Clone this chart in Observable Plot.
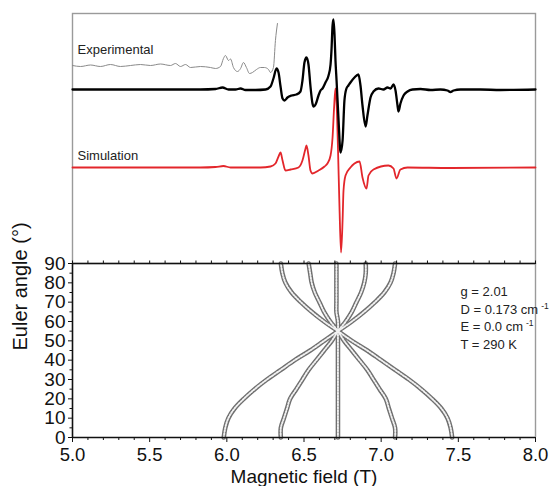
<!DOCTYPE html>
<html>
<head>
<meta charset="utf-8">
<script src="https://cdn.jsdelivr.net/npm/d3@7"></script>
<script src="https://cdn.jsdelivr.net/npm/@observablehq/plot@0.6"></script>
<style>
  body { margin: 0; background: #fff; }
  #wrap { position: relative; width: 549px; height: 486px; font-family: "Liberation Sans", Arial, sans-serif; }
  #wrap > svg { position: absolute; left: 0; }
</style>
</head>
<body>
<div id="wrap"></div>
<script>
// ---------- top panel: EPR spectra (field in T, signal in arb. units) ----------
const experimental = [[5.000,0],[5.505,0],[5.829,0],[5.927,0.5],[5.972,2],[6.011,0],[6.056,0],[6.089,1],[6.121,-0.5],[6.186,-0.5],[6.251,0],[6.283,3],[6.302,11],[6.322,21],[6.335,17],[6.348,3],[6.361,-9],[6.374,-11],[6.393,-8],[6.419,-6],[6.451,-5],[6.477,-2],[6.490,9],[6.503,27],[6.516,32],[6.529,25],[6.542,3],[6.555,-14],[6.562,-17],[6.575,-15],[6.594,-6],[6.607,-1],[6.620,1],[6.639,7],[6.659,14],[6.672,25],[6.678,39],[6.685,64],[6.691,70],[6.698,54],[6.704,29],[6.711,9],[6.724,-31],[6.737,-63],[6.750,-51],[6.762,-11],[6.775,1],[6.788,4],[6.801,7],[6.827,12],[6.853,15],[6.866,4],[6.879,-16],[6.899,-37],[6.911,-26],[6.931,-8],[6.950,-2],[6.983,1],[7.015,0],[7.041,2],[7.061,1],[7.080,5],[7.093,-1],[7.106,-16],[7.112,-22],[7.125,-14],[7.145,-6],[7.171,-2],[7.203,0],[7.255,0.5],[7.320,-0.5],[7.384,0],[7.430,-1],[7.449,-2.5],[7.469,-1],[7.514,0],[7.644,0],[7.773,-0.5],[8.000,0]];

const experimentalZoom = [[5.000,1],[5.052,0],[5.117,1.5],[5.181,0],[5.246,2],[5.311,0],[5.376,1],[5.441,2],[5.505,1],[5.570,2.5],[5.635,1],[5.667,3],[5.700,0],[5.732,2],[5.765,-1],[5.829,0],[5.894,-1],[5.927,-2],[5.959,0],[5.978,8],[5.991,11],[6.011,6],[6.024,7.5],[6.043,-1],[6.069,-5],[6.089,-2],[6.108,4],[6.127,-1],[6.147,-7],[6.166,-6],[6.192,-3],[6.218,-1],[6.244,-1],[6.270,-3],[6.283,-6],[6.302,-1],[6.315,26],[6.328,43]];

const simulation = [[5.000,0],[5.829,0],[5.927,0.5],[5.978,1.5],[6.024,0],[6.218,0],[6.283,1],[6.315,4],[6.335,11],[6.348,15],[6.361,7],[6.380,-3],[6.413,-2],[6.464,0],[6.490,7],[6.510,19],[6.516,22],[6.529,12],[6.542,-3],[6.555,-6],[6.594,-3],[6.633,1],[6.652,4],[6.672,12],[6.685,30],[6.695,60],[6.704,79],[6.711,65],[6.720,20],[6.730,-40],[6.740,-85],[6.750,-53],[6.756,-23],[6.769,-8],[6.801,0],[6.827,4],[6.860,6],[6.879,-10],[6.905,-21],[6.918,-8],[6.950,-2],[7.047,2],[7.080,-1],[7.099,-11],[7.125,-2],[7.171,0],[7.449,-0.5],[8.000,0]];

const spectrumLabels = ["Experimental", "Simulation"];

// ---------- bottom panel: resonance field vs Euler angle ----------
const angles = [0,5,10,15,20,25,30,35,40,45,50,55,60,65,70,75,80,85,90];
const branch1 = [5.98,5.99,6.01,6.05,6.11,6.18,6.26,6.35,6.44,6.54,6.63,6.72,6.81,6.89,6.96,7.02,7.06,7.08,7.09];
const branch2 = [6.35,6.35,6.37,6.39,6.41,6.45,6.49,6.53,6.58,6.63,6.68,6.72,6.77,6.81,6.84,6.87,6.89,6.90,6.90];
const branch3 = [6.72,6.72,6.72,6.72,6.72,6.72,6.72,6.72,6.72,6.72,6.72,6.72,6.72,6.71,6.71,6.71,6.71,6.71,6.71];
const branch4 = [7.09,7.09,7.07,7.05,7.03,6.99,6.95,6.91,6.86,6.81,6.76,6.72,6.67,6.63,6.60,6.57,6.55,6.54,6.53];
const branch5 = [7.46,7.45,7.43,7.39,7.33,7.26,7.18,7.09,7.00,6.91,6.81,6.72,6.63,6.55,6.48,6.42,6.38,6.36,6.35];

const xTicks = [5.0,5.5,6.0,6.5,7.0,7.5,8.0];
const xMinorTicks = [5.1,5.2,5.3,5.4,5.6,5.7,5.8,5.9,6.1,6.2,6.3,6.4,6.6,6.7,6.8,6.9,7.1,7.2,7.3,7.4,7.6,7.7,7.8,7.9];
const yTicks = [0,10,20,30,40,50,60,70,80,90];
const yMinorTicks = [5,15,25,35,45,55,65,75,85];
const paramLines = ["g = 2.01", "D = 0.173 cm", "E = 0.0 cm", "T = 290 K"];
const unitExponent = "-1";
const xLabel = "Magnetic field (T)";
const yLabel = "Euler angle (\u00B0)";

const font = '"Liberation Sans", Arial, sans-serif';
const wrap = document.getElementById("wrap");

// ---------- top plot ----------
const topPlot = Plot.plot({
  width: 549, height: 263,
  marginTop: 13, marginLeft: 72, marginRight: 14, marginBottom: 0,
  x: {domain: [5, 8], axis: null},
  y: {domain: [-174, 76], axis: null},
  style: {background: "transparent", overflow: "visible", fontFamily: font},
  marks: [
    Plot.frame({stroke: "#9a9a9a", strokeWidth: 1.4}),
    Plot.line(experimentalZoom, {x: d => d[0], y: d => d[1] + 23, stroke: "#8a8a8a", strokeWidth: 1, curve: "monotone-x"}),
    Plot.line(simulation, {x: d => d[0], y: d => d[1] - 78, stroke: "#e3262b", strokeWidth: 1.8, curve: "monotone-x"}),
    Plot.line(experimental, {x: d => d[0], y: d => d[1], stroke: "#000", strokeWidth: 2.3, curve: "monotone-x"}),
    Plot.text([spectrumLabels[0]], {frameAnchor: "top-left", dx: 5, dy: 40, lineAnchor: "bottom", textAnchor: "start", fontSize: 13, fill: "#222"}),
    Plot.text([spectrumLabels[1]], {frameAnchor: "top-left", dx: 5, dy: 146, lineAnchor: "bottom", textAnchor: "start", fontSize: 13, fill: "#222"})
  ]
});
topPlot.style.top = "0px";
wrap.appendChild(topPlot);

// ---------- bottom plot ----------
const branches = [branch1, branch2, branch3, branch4, branch5];
const pts = branches.flatMap((b, k) => angles.map((a, i) => ({angle: a, field: b[i], branch: k})));

const bottomPlot = Plot.plot({
  width: 549, height: 223,
  marginTop: 0, marginLeft: 72, marginRight: 14, marginBottom: 49,
  x: {domain: [5, 8], axis: null},
  y: {domain: [0, 90], axis: null},
  style: {background: "transparent", overflow: "visible", fontFamily: font, color: "#111"},
  marks: [
    Plot.line(pts, {x: "field", y: "angle", z: "branch", stroke: "#707070", strokeWidth: 4.6, curve: "catmull-rom"}),
    Plot.line(pts, {x: "field", y: "angle", z: "branch", stroke: "#f2f2f2", strokeWidth: 1.9, strokeDasharray: "1.3,1.6", curve: "catmull-rom"}),
    Plot.ruleX([8], {stroke: "#9a9a9a", strokeWidth: 1.4}),
    Plot.ruleY([0], {stroke: "#111", strokeWidth: 1.6}),
    Plot.ruleY([90], {stroke: "#111", strokeWidth: 1.6}),
    Plot.ruleX([5], {stroke: "#111", strokeWidth: 1.6}),
    Plot.axisX({ticks: xTicks, anchor: "bottom", tickSize: 5, tickPadding: 5, tickFormat: d => d.toFixed(1), fontSize: 18.5, label: null}),
    Plot.axisX({ticks: xMinorTicks, anchor: "bottom", tickSize: 3, fill: "none", label: null}),
    Plot.axisX({ticks: xTicks.concat(xMinorTicks), anchor: "top", tickSize: 3.5, fill: "none", label: null}),
    Plot.axisY({ticks: yTicks, anchor: "left", tickSize: 4, tickPadding: 3, fontSize: 19, label: null}),
    Plot.axisY({ticks: yMinorTicks, anchor: "left", tickSize: 2.5, fill: "none", label: null}),
    Plot.text([paramLines.join("\n")], {frameAnchor: "top-left", dx: 388, dy: 20, lineAnchor: "top", textAnchor: "start", fontSize: 13, lineHeight: 1.35, fill: "#222", className: "params"}),
    Plot.text([xLabel], {frameAnchor: "bottom", dy: 45, lineAnchor: "bottom", fontSize: 19, fill: "#111"}),
    Plot.text([yLabel], {frameAnchor: "left", dx: -52, rotate: -90, fontSize: 20, fill: "#111"})
  ]
});
// raise the unit exponent "-1" after "cm" as a small superscript
d3.select(bottomPlot).selectAll("g.params tspan").each(function() {
  const t = d3.select(this);
  if (t.text().endsWith("cm")) {
    t.append("tspan").attr("dx", 3).attr("font-size", 8.5).attr("baseline-shift", "60%").text(unitExponent);
  }
});
bottomPlot.style.top = "263px";
wrap.appendChild(bottomPlot);
</script>
</body>
</html>
